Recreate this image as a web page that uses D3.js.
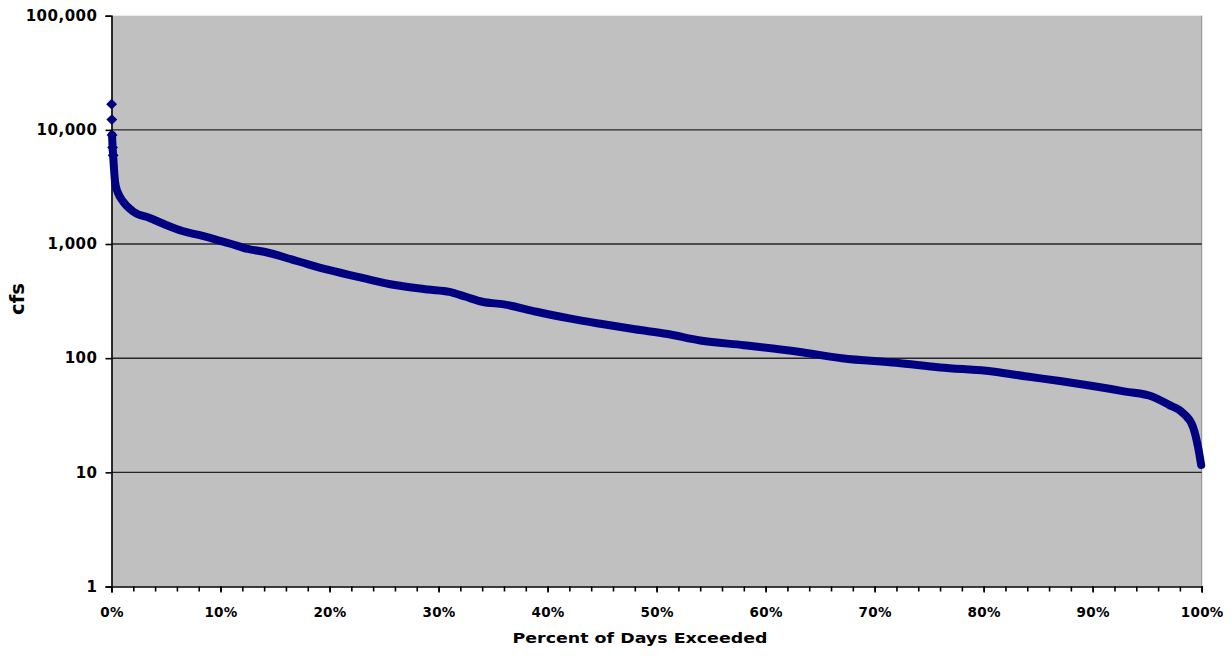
<!DOCTYPE html>
<html>
<head>
<meta charset="utf-8">
<script src="https://cdn.jsdelivr.net/npm/d3@7"></script>
<style>
  html, body { margin: 0; padding: 0; background: #fff; }
  svg text { font-family: "DejaVu Sans", Arial, sans-serif; font-weight: bold; fill: #000; }
</style>
</head>
<body>
<svg id="chart"></svg>
<script>
// flow duration values
const pctExceeded = [0.01, 0.03, 0.05, 0.1, 0.15, 0.2, 0.25, 0.3, 0.4, 0.6, 1.0, 2.0, 3.5, 5.0, 6.5, 8.0, 9.5,
  11, 12.5, 14, 17, 20, 23, 26, 29, 31, 32.5, 34, 36, 39, 42, 45, 48, 51, 54, 58, 63, 67, 72, 76, 81,
  84, 87, 90, 93, 95.5, 97, 98.3, 99.2, 99.7, 99.95];
const flowCfs = [16800, 12300, 9000, 7000, 6000, 5000, 4300, 3700, 3200, 2800, 2400, 1920, 1690, 1470, 1300, 1200, 1100,
  1000, 905, 855, 710, 590, 505, 437, 400, 381, 345, 312, 296, 255, 223, 199, 179, 163, 143, 130, 114, 100, 91, 83, 76,
  69, 63, 57, 51, 46, 39, 33, 25, 16, 11.6];

const yTicks = [1, 10, 100, 1000, 10000, 100000];
const yGrid = [10, 100, 1000, 10000];
const xTicks = [0, 10, 20, 30, 40, 50, 60, 70, 80, 90, 100];
const xMinorTicks = d3.range(0, 101, 2);

const width = 1231, height = 659;
const plotLeft = 111.5, plotRight = 1201.7, plotTop = 15.7, plotBottom = 586.5;

const svg = d3.select("#chart").attr("width", width).attr("height", height);

const x = d3.scaleLinear().domain([0, 100]).range([plotLeft, plotRight]);
const y = d3.scaleLog().domain([1, 100000]).range([plotBottom, plotTop]);

// plot background
svg.append("rect")
  .attr("x", plotLeft).attr("y", plotTop)
  .attr("width", plotRight - plotLeft).attr("height", plotBottom - plotTop)
  .attr("fill", "#c0c0c0");

svg.append("line")
  .attr("x1", plotRight).attr("x2", plotRight).attr("y1", plotTop).attr("y2", plotBottom)
  .attr("stroke", "#8a8a8a").attr("stroke-width", 1);

// gridlines
svg.append("g")
  .selectAll("line")
  .data(yGrid)
  .enter()
  .append("line")
  .attr("x1", plotLeft).attr("x2", plotRight)
  .attr("y1", d => y(d)).attr("y2", d => y(d))
  .attr("stroke", "#262626")
  .attr("stroke-width", 1.4);

// axes
const yAxis = svg.append("g")
  .attr("transform", `translate(${plotLeft},0)`)
  .call(d3.axisLeft(y).tickValues(yTicks).tickFormat(d3.format(",")).tickSize(6).tickPadding(8));

const xMinor = svg.append("g")
  .attr("transform", `translate(0,${plotBottom})`)
  .call(d3.axisBottom(x).tickValues(xMinorTicks).tickFormat("").tickSize(5));

const xAxis = svg.append("g")
  .attr("transform", `translate(0,${plotBottom})`)
  .call(d3.axisBottom(x).tickValues(xTicks).tickFormat(d => d + "%").tickSize(6).tickPadding(15));

[yAxis, xMinor, xAxis].forEach(g => {
  g.selectAll(".domain").attr("stroke", "#000").attr("stroke-width", 1.6);
  g.selectAll(".tick line").attr("stroke", "#000").attr("stroke-width", 1.6);
});
xMinor.selectAll(".domain").remove();

yAxis.selectAll("text")
  .style("font-size", "15px")
  .style("letter-spacing", "0.5px")
  .style("font-family", "'DejaVu Sans', sans-serif")
  .style("font-weight", "bold");

xAxis.selectAll("text")
  .style("font-size", "13.5px")
  .style("letter-spacing", "0.3px")
  .style("font-family", "'DejaVu Sans', sans-serif")
  .style("font-weight", "bold");

// series
const data = pctExceeded.map((p, i) => ({ p, v: flowCfs[i] }));

const line = d3.line()
  .x(d => x(d.p))
  .y(d => y(d.v))
  .curve(d3.curveMonotoneX);

svg.append("path")
  .datum(data.filter(d => d.v < 10000))
  .attr("d", line)
  .attr("fill", "none")
  .attr("stroke", "#000080")
  .attr("stroke-width", 8)
  .attr("stroke-linejoin", "round")
  .attr("stroke-linecap", "round");

const diamond = d3.symbol().type(d3.symbolDiamond).size(40);
svg.append("g")
  .selectAll("path")
  .data(data.filter(d => d.v >= 6000))
  .enter()
  .append("path")
  .attr("d", diamond)
  .attr("transform", d => `translate(${x(d.p)},${y(d.v)}) scale(1.6,0.9)`)
  .attr("fill", "#000080");

// titles
svg.append("text")
  .attr("x", 640).attr("y", 643)
  .attr("text-anchor", "middle")
  .attr("textLength", 255)
  .attr("lengthAdjust", "spacingAndGlyphs")
  .style("font-size", "14.5px")
  .text("Percent of Days Exceeded");

svg.append("text")
  .attr("transform", "translate(24,299) rotate(-90)")
  .attr("text-anchor", "middle")
  .attr("textLength", 32)
  .attr("lengthAdjust", "spacingAndGlyphs")
  .style("font-size", "19px")
  .text("cfs");
</script>
</body>
</html>
